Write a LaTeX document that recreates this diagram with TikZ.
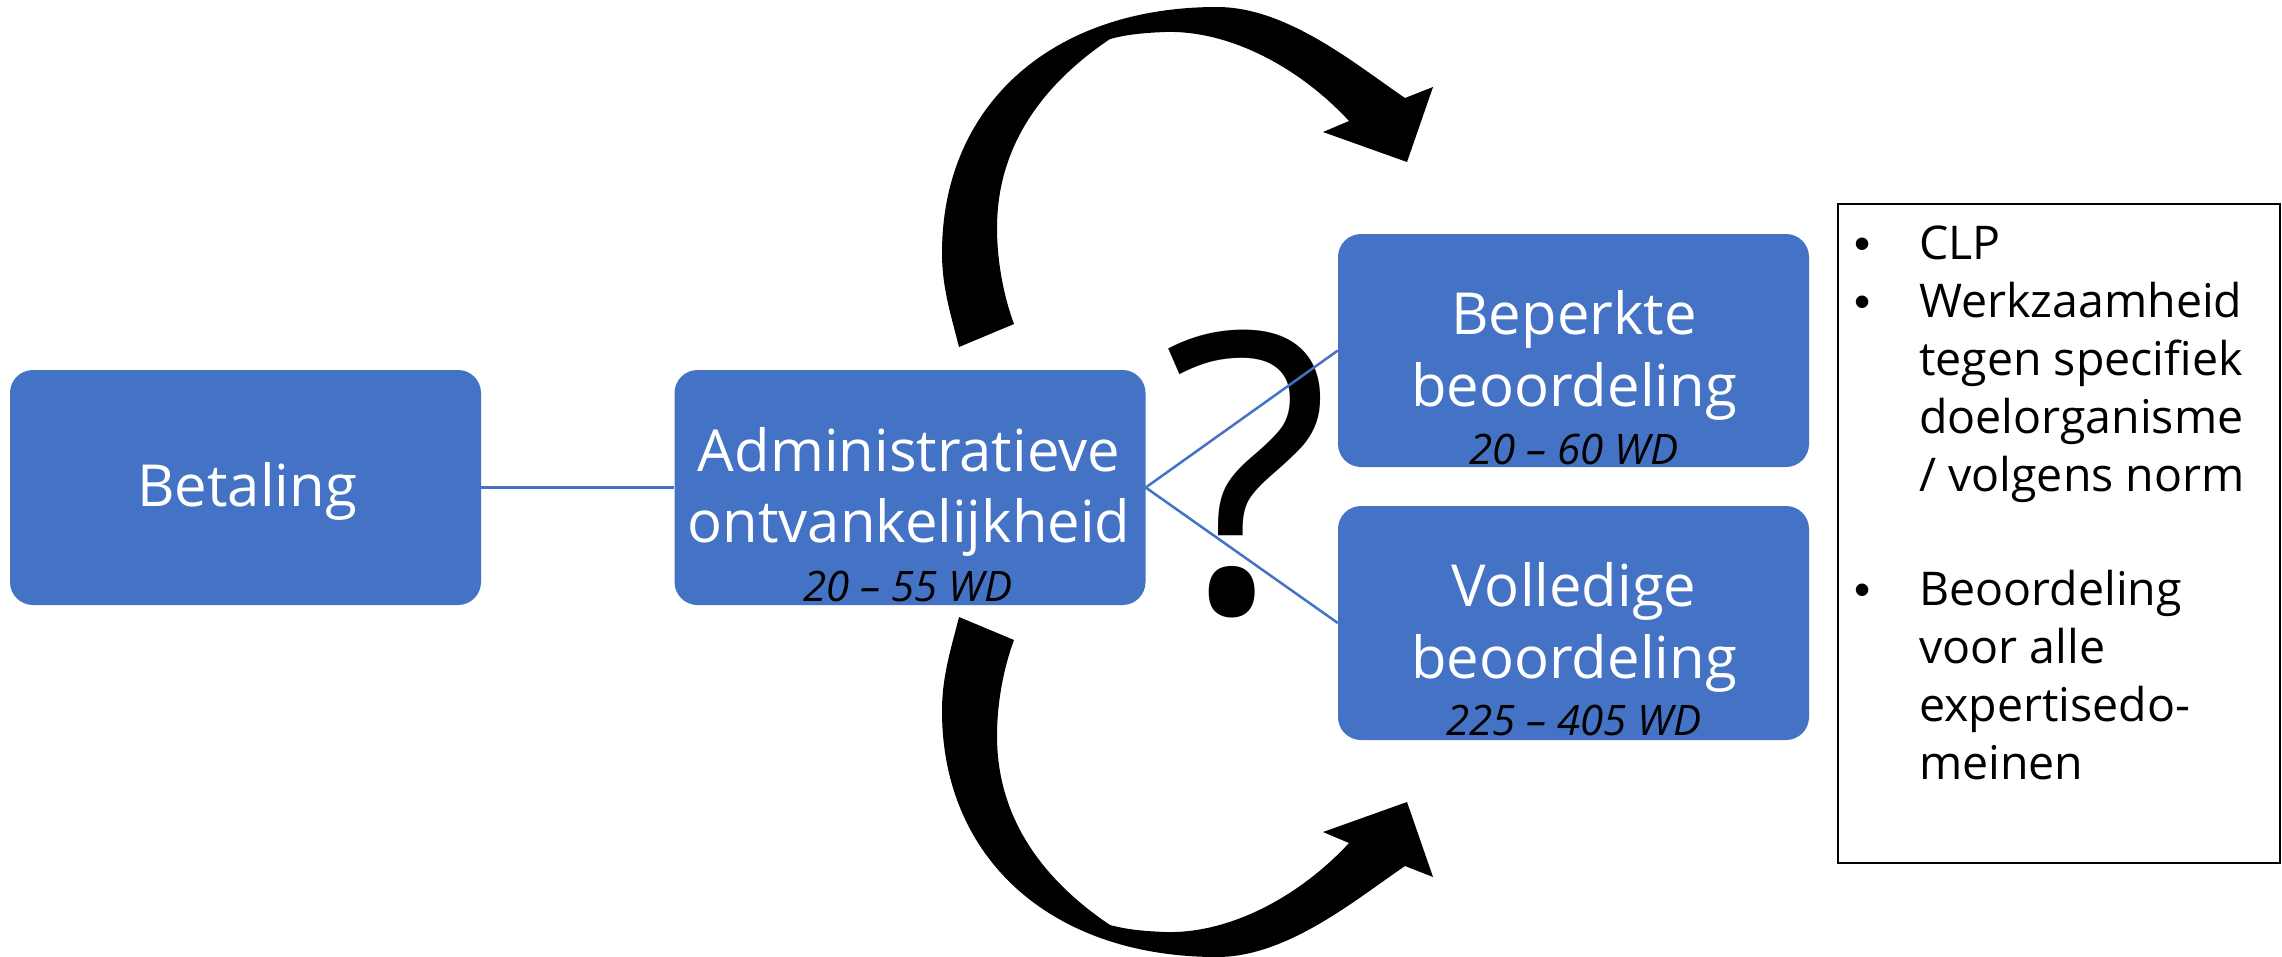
\documentclass[tikz,border=0pt]{standalone}
\usepackage{fontspec}
\setmainfont{Open Sans}
\newfontfamily\bulfont{Liberation Sans}
\definecolor{boxblue}{HTML}{4472C4}
\newcommand{\bentarrowpath}{%
  (959,347) .. controls (951,315) and (942,288) .. (942,253)
  .. controls (942,105) and (1052,7) .. (1217,7)
  .. controls (1287,7) and (1355,64) .. (1405,98)
  -- (1433,87) -- (1407,162) -- (1323,132) -- (1349,121)
  .. controls (1300,68) and (1230,30) .. (1165,32)
  .. controls (1140,33) and (1125,35) .. (1110,39)
  .. controls (1052,78) and (997,138) .. (997,228)
  .. controls (997,265) and (1005,300) .. (1014,324)
  -- cycle}
\begin{document}
\begin{tikzpicture}[x=1pt,y=-1pt,
  box/.style={fill=boxblue, rounded corners=23pt, minimum width=471pt, minimum height=235pt, inner sep=0pt},
  big/.style={text=white, font=\fontsize{58}{70}\selectfont, inner sep=0pt, anchor=base},
  dur/.style={text=black, font=\fontsize{42}{50}\selectfont\itshape, inner sep=0pt, anchor=base},
  info/.style={font=\fontsize{46.5}{58}\selectfont, inner sep=0pt, anchor=base west},
  bul/.style={font=\bulfont\fontsize{46}{58}\selectfont, inner sep=0pt, anchor=base},
  conn/.style={draw=boxblue, line width=2.5pt}]
\fill[white] (0,0) rectangle (2282,956);
\useasboundingbox (0,0) rectangle (2282,956);

% question mark (under the connectors)
\node[font=\fontsize{390}{390}\selectfont, inner sep=0pt, anchor=base] (q) at (1247,612) {?};

% boxes
\node[box] (bet) at (245.5,487.5) {};
\node[box] (adm) at (910,487.5) {};
\node[box, minimum height=233pt] (bep) at (1573.5,350.5) {};
\node[box, minimum height=234pt] (vol) at (1573.5,623) {};

% connectors
\draw[conn] (bet.east) -- (adm.west);
\draw[conn] (adm.east) -- (bep.west);
\draw[conn] (adm.east) -- (vol.west);

% box texts
\node[big] (betT) at (247,506) {Betaling};
\node[big] (admT1) at (909,471) {Administratieve};
\node[big] (admT2) at (909,542) {ontvankelijkheid};
\node[dur] (admD) at (908,601) {20 – 55 WD};
\node[big] (bepT1) at (1574,334) {Beperkte};
\node[big] (bepT2) at (1574,406) {beoordeling};
\node[dur] (bepD) at (1574,464) {20 – 60 WD};
\node[big] (volT1) at (1574,606) {Volledige};
\node[big] (volT2) at (1574,678) {beoordeling};
\node[dur] (volD) at (1574,735) {225 – 405 WD};

% curved arrows
\fill[black] \bentarrowpath;
\begin{scope}[shift={(0,964)}, yscale=-1]
\fill[black] \bentarrowpath;
\end{scope}

% info box
\node[draw=black, line width=2pt, minimum width=442pt, minimum height=659pt, inner sep=0pt] (infobox) at (2059,533.5) {};
\node[bul] (b1) at (1863,259) {•};
\node[bul] (b2) at (1863,317) {•};
\node[bul] (b3) at (1863,605) {•};
\node[info] (l1) at (1919,259) {CLP};
\node[info] (l2) at (1919,317) {Werkzaamheid};
\node[info] (l3) at (1919,375) {tegen specifiek};
\node[info] (l4) at (1919,433) {doelorganisme};
\node[info] (l5) at (1919,491) {/ volgens norm};
\node[info] (l6) at (1919,605) {Beoordeling};
\node[info] (l7) at (1919,663) {voor alle};
\node[info] (l8) at (1919,721) {expertisedo-};
\node[info] (l9) at (1919,779) {meinen};
\end{tikzpicture}
\end{document}
